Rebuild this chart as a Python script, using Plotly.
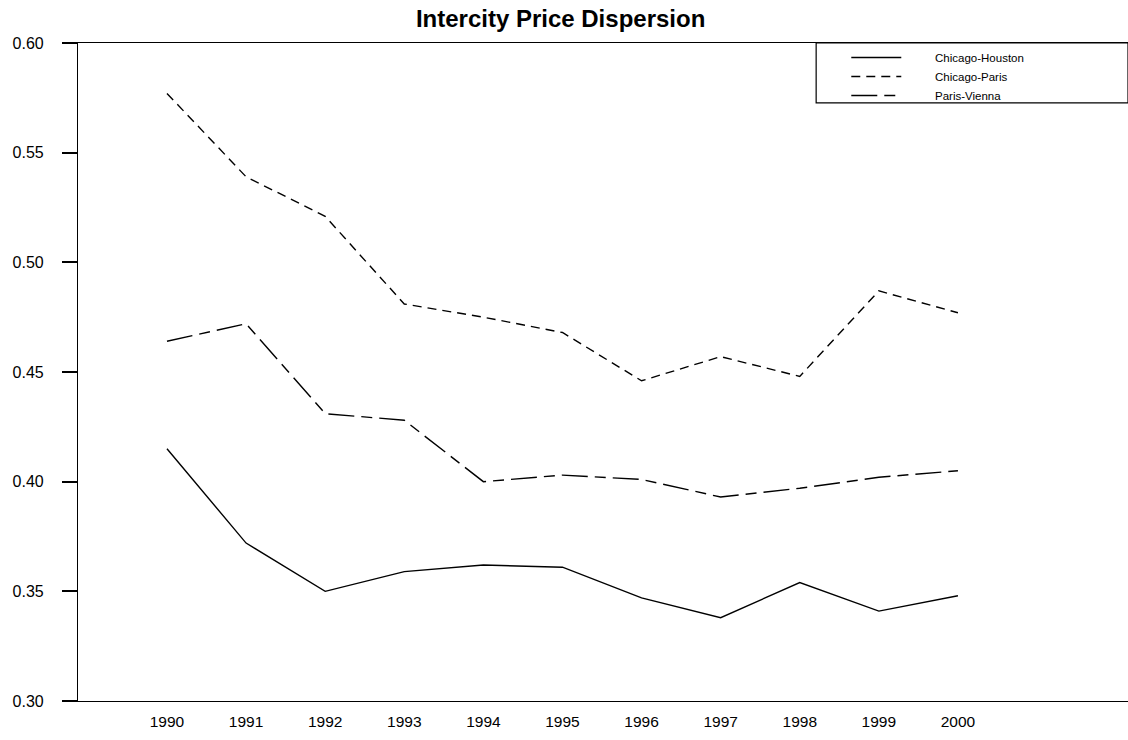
import plotly.graph_objects as go

years = [1990, 1991, 1992, 1993, 1994, 1995, 1996, 1997, 1998, 1999, 2000]
chicago_houston = [0.415, 0.372, 0.350, 0.359, 0.362, 0.361, 0.347, 0.338, 0.354, 0.341, 0.348]
chicago_paris = [0.577, 0.539, 0.521, 0.481, 0.475, 0.468, 0.446, 0.457, 0.448, 0.487, 0.477]
paris_vienna = [0.464, 0.472, 0.431, 0.428, 0.400, 0.403, 0.401, 0.393, 0.397, 0.402, 0.405]
y_ticks = [0.30, 0.35, 0.40, 0.45, 0.50, 0.55, 0.60]

pad = "\u2003\u2003\u2002"
fig = go.Figure()
fig.add_trace(go.Scatter(x=years, y=chicago_houston, mode="lines", name=pad + "Chicago-Houston",
                         line=dict(color="black", width=1.4)))
fig.add_trace(go.Scatter(x=years, y=chicago_paris, mode="lines", name=pad + "Chicago-Paris",
                         line=dict(color="black", width=1.4, dash="9px,6px")))
fig.add_trace(go.Scatter(x=years, y=paris_vienna, mode="lines", name=pad + "Paris-Vienna",
                         line=dict(color="black", width=1.4, dash="26px,7px,11px,7px")))

# legend frame
fig.add_shape(type="rect", xref="paper", yref="paper", x0=0.703, x1=1.0, y0=0.909, y1=1.0,
              line=dict(color="black", width=1.2), fillcolor="rgba(0,0,0,0)")

fig.update_layout(
    width=1128, height=740,
    margin=dict(l=78, r=0, t=43, b=39),
    paper_bgcolor="white", plot_bgcolor="white",
    font=dict(family="Liberation Sans, Arial, sans-serif", color="black"),
    title=dict(text="<b>Intercity Price Dispersion</b>", x=0.497, xanchor="center",
               y=0.9749, yanchor="middle", font=dict(size=24, color="black")),
    showlegend=True,
    legend=dict(x=0.7317, y=1.0, xanchor="left", yanchor="top", bgcolor="rgba(0,0,0,0)",
                borderwidth=0, font=dict(size=11.5), itemwidth=50, tracegroupgap=0),
    xaxis=dict(range=[1988.875, 2002.15], tickvals=years, ticktext=[str(y) for y in years],
               showgrid=False, zeroline=False, showline=True, linecolor="black", linewidth=1.2,
               mirror=True, ticks="", ticklabelstandoff=6, tickfont=dict(size=15.5),
               automargin=False),
    yaxis=dict(range=[0.30, 0.60], tickvals=y_ticks, ticktext=[f"{v:.2f}" for v in y_ticks],
               showgrid=False, zeroline=False, showline=True, linecolor="black", linewidth=1.2,
               ticks="outside", ticklen=15, tickcolor="black", tickwidth=1.5,
               ticklabelstandoff=15, tickfont=dict(size=16), automargin=False),
)

fig.write_html("out.html", config={"displayModeBar": False},
               post_script="document.body.style.margin='0px';")
